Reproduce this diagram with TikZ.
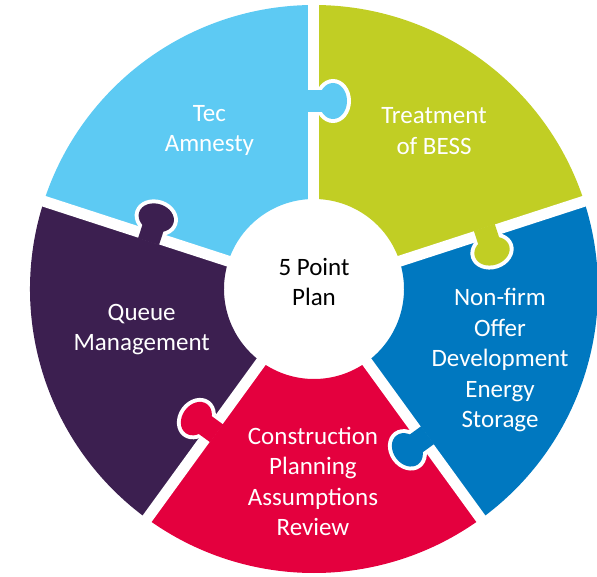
\documentclass[tikz,border=0pt]{standalone}
\usepackage{fontspec}
\setmainfont{Carlito}

\definecolor{tecblue}{RGB}{93,202,243}
\definecolor{bessgreen}{RGB}{193,206,36}
\definecolor{nonfirmblue}{RGB}{0,120,192}
\definecolor{cpared}{RGB}{228,0,62}
\definecolor{queuepurple}{RGB}{60,31,80}

\begin{document}
\begin{tikzpicture}[x=1pt,y=1pt,
		piecetext/.style={align=center, text=white, font=\fontsize{25}{30.5}\selectfont},
		gap/.style={white, line width=11pt}]
		
		\useasboundingbox (-314,-287) rectangle (283,289);
		
		% Pieces
		
		\fill[tecblue] (90:90pt) arc[start angle=90, end angle=162, radius=90pt] -- (162:284pt) arc[start angle=162, end angle=90, radius=284pt] -- cycle;
		\fill[bessgreen] (18:90pt) arc[start angle=18, end angle=90, radius=90pt] -- (90:284pt) arc[start angle=90, end angle=18, radius=284pt] -- cycle;
		\fill[nonfirmblue] (-54:90pt) arc[start angle=-54, end angle=18, radius=90pt] -- (18:284pt) arc[start angle=18, end angle=-54, radius=284pt] -- cycle;
		\fill[cpared] (-126:90pt) arc[start angle=-126, end angle=-54, radius=90pt] -- (-54:284pt) arc[start angle=-54, end angle=-126, radius=284pt] -- cycle;
		\fill[queuepurple] (162:90pt) arc[start angle=162, end angle=234, radius=90pt] -- (234:284pt) arc[start angle=234, end angle=162, radius=284pt] -- cycle;
		
		% Gaps
		
		\foreach \a in {90,18,-54,-126,162}
			\draw[gap] (0,0) -- (\a:290pt);
		
		% Tabs
		
		\foreach \a/\r/\c in {90/188/tecblue, 18/181/bessgreen, -54/185/nonfirmblue, -126/174/cpared, 162/172/queuepurple}
		{
			\begin{scope}[shift={(\a:\r pt)}, rotate=\a]
				\fill[white] (0,-19) ellipse[x radius=22pt, y radius=18pt];
				\fill[\c] (-11,6) rectangle (11,-19);
				\fill[\c] (0,-19) ellipse[x radius=18pt, y radius=14pt];
			\end{scope}
		}
		
		% Labels
		
		\node[piecetext] (tec) at (-104.6,158.5) {Tec\\Amnesty};
		\node[piecetext] (bess) at (120,158) {Treatment\\of BESS};
		\node[piecetext] (queue) at (-172.3,-40.5) {Queue\\Management};
		\node[piecetext] (nonfirm) at (186,-71.5) {Non-firm\\Offer\\Development\\Energy\\Storage};
		\node[piecetext] (cpa) at (-1,-192.5) {Construction\\Planning\\Assumptions\\Review};
		\node[piecetext, text=black] (plan) at (0,7) {5 Point\\Plan};
		
	\end{tikzpicture}
\end{document}
